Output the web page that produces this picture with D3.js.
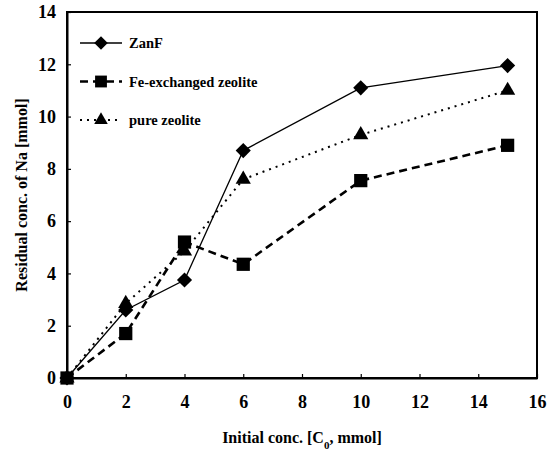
<!DOCTYPE html>
<html><head><meta charset="utf-8">
<script src="https://cdn.jsdelivr.net/npm/d3@7"></script>
<style>body{margin:0;background:#fff}svg{display:block}</style>
</head><body>
<script>
const xValues = [0, 2, 4, 6, 10, 15];
const zanF = [0, 2.6, 3.75, 8.7, 11.1, 11.95];
const feZeolite = [0, 1.7, 5.2, 4.35, 7.55, 8.9];
const pureZeolite = [0, 2.85, 4.85, 7.6, 9.3, 11.0];
const seriesNames = ["ZanF", "Fe-exchanged zeolite", "pure zeolite"];
const xTicks = [0, 2, 4, 6, 8, 10, 12, 14, 16];
const yTicks = [0, 2, 4, 6, 8, 10, 12, 14];

const W = 553, H = 454;
const m = {l: 67, r: 16, t: 12, b: 76};
const svg = d3.select("body").append("svg").attr("width", W).attr("height", H);
const x = d3.scaleLinear().domain([0, 16]).range([m.l, W - m.r]);
const y = d3.scaleLinear().domain([0, 14]).range([H - m.b, m.t]);
const serif = sel => sel.style("font-family", '"Liberation Serif"').style("font-weight", "bold").style("fill", "#000");

const wideDiamond = {draw(ctx, size) { const r = Math.sqrt(size / 2); ctx.moveTo(0, -r); ctx.lineTo(r, 0); ctx.lineTo(0, r); ctx.lineTo(-r, 0); ctx.closePath(); }};

svg.append("rect").attr("x", x(0)).attr("y", y(14)).attr("width", x(16) - x(0)).attr("height", y(0) - y(14))
  .attr("fill", "none").attr("stroke", "#000").attr("stroke-width", 2);

const xAxis = svg.append("g").attr("transform", `translate(0,${y(0)})`)
  .call(d3.axisBottom(x).tickValues(xTicks).tickSizeInner(-4).tickSizeOuter(0).tickPadding(17));
const yAxis = svg.append("g").attr("transform", `translate(${x(0)},0)`)
  .call(d3.axisLeft(y).tickValues(yTicks).tickSizeInner(-4).tickSizeOuter(0).tickPadding(11));
[xAxis, yAxis].forEach(a => {
  a.attr("font-family", null);
  a.select(".domain").attr("stroke", "#000").attr("stroke-width", 2);
  a.selectAll(".tick line").attr("stroke", "#000").attr("stroke-width", 1.2);
  a.selectAll("text").call(serif).style("font-size", "18px");
});

svg.append("text").attr("x", (x(0) + x(16)) / 2).attr("y", 443).attr("text-anchor", "middle")
  .call(serif).style("font-size", "16px")
  .html('Initial conc. [C<tspan baseline-shift="sub" font-size="11">0</tspan>, mmol]');
svg.append("text").attr("transform", `translate(27,${(y(0) + y(14)) / 2}) rotate(-90)`).attr("text-anchor", "middle")
  .call(serif).style("font-size", "16px").text("Residual conc. of Na [mmol]");

const styles = [
  {data: zanF, dash: null, width: 1.3, shape: wideDiamond, size: 115},
  {data: feZeolite, dash: "8,5", width: 2.6, shape: d3.symbolSquare, size: 175},
  {data: pureZeolite, dash: "2,5", width: 2, shape: d3.symbolTriangle, size: 100}
];
const line = d3.line().x((d, i) => x(xValues[i])).y(d => y(d));

styles.forEach((s, k) => {
  svg.append("path").datum(s.data).attr("d", line).attr("fill", "none").attr("stroke", "#000")
    .attr("stroke-width", s.width).attr("stroke-dasharray", s.dash);
  svg.selectAll(null).data(s.data).enter().append("path")
    .attr("d", d3.symbol().type(s.shape).size(s.size))
    .attr("transform", (d, i) => `translate(${x(xValues[i])},${y(d)})`).attr("fill", "#000");
  const ly = 43 + k * 38.5;
  svg.append("line").attr("x1", 80).attr("x2", 122).attr("y1", ly).attr("y2", ly).attr("stroke", "#000")
    .attr("stroke-width", s.width).attr("stroke-dasharray", s.dash);
  svg.append("path").attr("d", d3.symbol().type(s.shape).size(s.size * 0.8)).attr("transform", `translate(101,${ly})`).attr("fill", "#000");
  svg.append("text").attr("x", 129).attr("y", ly + 5).call(serif).style("font-size", "14.5px").text(seriesNames[k]);
});
</script>
</body></html>
